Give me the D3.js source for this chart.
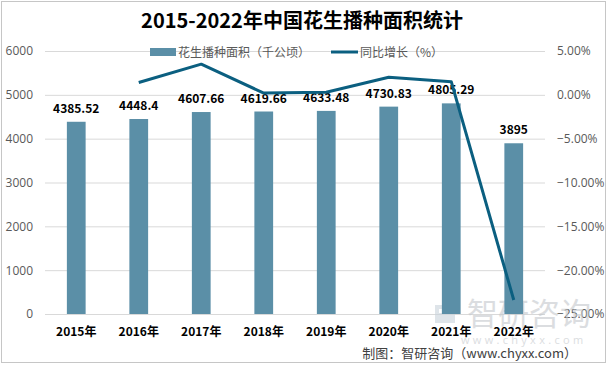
<!DOCTYPE html>
<html><head><meta charset="utf-8">
<script src="https://cdn.jsdelivr.net/npm/d3@7"></script>
<style>body{margin:0;background:#fff}svg{display:block}</style>
</head><body>
<svg id="c" width="608" height="366"></svg>
<script>
const years = ["2015年","2016年","2017年","2018年","2019年","2020年","2021年","2022年"];
const area = [4385.52, 4448.4, 4607.66, 4619.66, 4633.48, 4730.83, 4805.29, 3895];
const areaLabels = ["4385.52","4448.4","4607.66","4619.66","4633.48","4730.83","4805.29","3895"];
const growth = [null, 1.4, 3.5, 0.2, 0.3, 2.0, 1.5, -23.4];
const leftTicks = [0,1000,2000,3000,4000,5000,6000];
const rightTicks = [5,0,-5,-10,-15,-20,-25];
const title = "2015-2022年中国花生播种面积统计";
const legendNames = ["花生播种面积（千公顷）","同比增长（%）"];
const source = "制图：智研咨询（www.chyxx.com）";

const svg = d3.select("#c");
const font = "'Noto Sans CJK SC','Noto Sans',sans-serif";
const numFont = "'Open Sans','Noto Sans',sans-serif";
const barColor = "#5b8fa7", lineColor = "#0b5f80";

// border
svg.append("rect").attr("x",1.5).attr("y",1.5).attr("width",604).attr("height",361)
  .attr("fill","#fff").attr("stroke","#c6c6c6");

const x = d3.scaleBand().domain(years).range([45,545]).paddingInner(0.7).paddingOuter(0.35);
const yL = d3.scaleLinear().domain([0,6000]).range([314,51]);
const yR = d3.scaleLinear().domain([-25,5]).range([314,51]);

// gridlines
svg.append("g").selectAll("line").data(leftTicks).join("line")
  .attr("x1",45).attr("x2",545).attr("y1",d=>yL(d)+0.5).attr("y2",d=>yL(d)+0.5)
  .attr("stroke","#d9d9d9").attr("stroke-width",1);

// left axis
const axL = d3.axisLeft(yL).tickValues(leftTicks).tickSize(0).tickPadding(0).tickFormat(d3.format("d"));
const gL = svg.append("g").attr("transform","translate(33,0)").call(axL);
gL.select(".domain").remove();
gL.selectAll("text").attr("font-family",numFont).attr("font-size",12).attr("fill","#595959");

// right axis
const axR = d3.axisRight(yR).tickValues(rightTicks).tickSize(0).tickPadding(0)
  .tickFormat(d=>d3.format(".2f")(d)+"%");
const gR = svg.append("g").attr("transform","translate(557,0)").call(axR);
gR.select(".domain").remove();
gR.selectAll("text").attr("font-family",numFont).attr("font-size",12).attr("fill","#595959");

// watermark
const wm = svg.append("g").attr("opacity",0.6);
wm.append("rect").attr("x",435).attr("y",305).attr("width",20).attr("height",18).attr("fill","#c9d3dc");
wm.append("rect").attr("x",439).attr("y",309).attr("width",12).attr("height",4).attr("fill","#fff");
wm.append("text").attr("x",467).attr("y",325).attr("font-family",font).attr("font-size",31)
  .attr("fill","#c4c8cc").text("智研咨询");
wm.append("text").attr("x",461).attr("y",344).attr("font-family",numFont).attr("font-size",11)
  .attr("letter-spacing",3.3).attr("fill","#c4c8cc").text("www.chyxx.com");

// bars
svg.append("g").selectAll("rect").data(area).join("rect")
  .attr("x",(d,i)=>x(years[i])).attr("width",x.bandwidth())
  .attr("y",d=>yL(d)).attr("height",d=>yL(0)-yL(d)).attr("fill",barColor);

// bar labels
svg.append("g").selectAll("text").data(area).join("text")
  .attr("x",(d,i)=>x(years[i])+x.bandwidth()/2).attr("y",d=>yL(d)-9)
  .attr("text-anchor","middle").attr("font-family",font).attr("font-size",12)
  .attr("font-weight","bold").attr("fill","#000").text((d,i)=>areaLabels[i]);

// line
const pts = growth.map((g,i)=>({g, yr:years[i]})).filter(d=>d.g!==null);
svg.append("path").datum(pts)
  .attr("d", d3.line().x(d=>x(d.yr)+x.bandwidth()/2).y(d=>yR(d.g)))
  .attr("fill","none").attr("stroke",lineColor).attr("stroke-width",3).attr("stroke-linejoin","round");

// x labels
svg.append("g").selectAll("text").data(years).join("text")
  .attr("x",d=>x(d)+x.bandwidth()/2).attr("y",336)
  .attr("text-anchor","middle").attr("font-family",font).attr("font-size",12)
  .attr("font-weight","bold").attr("fill","#000").text(d=>d);

// title
svg.append("text").attr("x",302).attr("y",28).attr("text-anchor","middle")
  .attr("font-family",font).attr("font-size",20).attr("font-weight","bold").attr("fill","#000").text(title);

// legend
const lg = svg.append("g").attr("font-family",font).attr("font-size",12).attr("fill","#595959");
lg.append("rect").attr("x",150).attr("y",48).attr("width",26).attr("height",8).attr("fill",barColor);
lg.append("text").attr("x",178).attr("y",57).text(legendNames[0]);
lg.append("line").attr("x1",331).attr("x2",358).attr("y1",52).attr("y2",52).attr("stroke",lineColor).attr("stroke-width",3);
lg.append("text").attr("x",360).attr("y",57).text(legendNames[1]);

// source
svg.append("text").attr("x",577).attr("y",358).attr("text-anchor","end")
  .attr("font-family",font).attr("font-size",13).attr("fill","#404040").text(source);
</script>
</body></html>
